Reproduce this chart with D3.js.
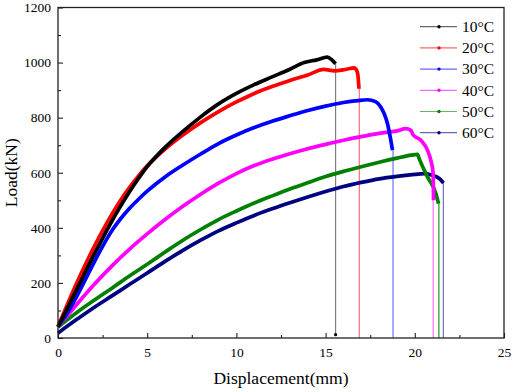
<!DOCTYPE html>
<html>
<head>
<meta charset="utf-8">
<script src="https://cdn.jsdelivr.net/npm/d3@7"></script>
<style>
  html, body { margin: 0; padding: 0; background: #fff; }
  svg text { font-family: 'Liberation Serif', 'Times New Roman', Times, 'DejaVu Serif', serif !important; }
</style>
</head>
<body>
<svg id="chart" width="512" height="392"></svg>
<script>
// ---------------- data ----------------
const seriesNames = ["10°C", "20°C", "30°C", "40°C", "50°C", "60°C"];
const seriesColors = ["#000000", "#ff0000", "#0000ff", "#ff00ff", "#008000", "#000080"];
const dropColors = ["#808080", "#ff7070", "#7070ff", "#ff70ff", "#10a010", "#7070c0"];

const s10 = [[0,40],[0.5,105],[1,170],[1.5,235],[2,300],[2.5,362],[3,422],[3.5,478],[4,530],[4.5,578],[5,622],[6,692],[7,750],[8,803],[9,850],[10,888],[11,920],[12,948],[13,976],[13.8,1000],[14.5,1010],[15.1,1020],[15.35,1010],[15.56,996]];
const s20 = [[0,42],[0.5,118],[1,192],[1.5,262],[2,328],[2.5,390],[3,447],[3.5,499],[4,546],[4.5,588],[5,625],[5.5,657],[6,686],[7,737],[8,782],[9,822],[10,857],[11,888],[12,913],[13,935],[14,955],[14.9,975],[15.5,970],[16.1,975],[16.6,981],[16.75,970],[16.81,955],[16.87,905]];
const s30 = [[0,42],[0.5,88],[1,145],[1.5,208],[2,272],[2.5,333],[3,388],[3.5,432],[4,470],[4.5,503],[5,533],[5.5,560],[6,585],[6.5,607],[7,628],[8,668],[9,706],[10,737],[11,764],[12,787],[13,807],[14,826],[15,842],[16,855],[16.8,862],[17.34,865],[17.8,858],[18.09,839],[18.3,812],[18.47,778],[18.65,720],[18.75,682]];
const s40 = [[0,42],[1,118],[2,192],[3,260],[4,322],[5,378],[6,430],[7,478],[8,522],[9,562],[10,597],[11,626],[12,649],[13,669],[14,687],[15,703],[16,718],[17,731],[18,743],[19,752],[19.49,760],[19.78,754],[19.9,738],[20.34,718],[20.71,682],[20.9,645],[21.03,597],[21.05,500]];
const s50 = [[0,40],[1,90],[2,136],[3,180],[4,225],[5,268],[6,312],[7,355],[8,394],[9,430],[10,461],[11,490],[12,516],[13,541],[14,564],[15,586],[16,605],[17,622],[18,638],[19,653],[19.8,664],[20.15,667],[20.24,652],[20.71,585],[21.18,525],[21.33,488]];
const s60 = [[0,18],[1,65],[2,110],[3,152],[4,194],[5,236],[6,278],[7,318],[8,355],[9,389],[10,418],[11,445],[12,469],[13,491],[14,512],[15,532],[16,550],[17,565],[18,578],[19,587],[20,594],[20.52,597],[20.99,591],[21.37,579],[21.61,563]];
const seriesData = [s10, s20, s30, s40, s50, s60];
// failure drop: [displacement, load at bottom of drop]
const dropX = [15.56, 16.89, 18.78, 21.03, 21.35, 21.6];
const dropEnd = [12, 0, 0, 0, 0, 0];

const xTicks = [0, 5, 10, 15, 20, 25];
const xMinor = [2.5, 7.5, 12.5, 17.5, 22.5];
const yTicks = [0, 200, 400, 600, 800, 1000, 1200];
const yMinor = [100, 300, 500, 700, 900, 1100];
const xTitle = "Displacement(mm)";
const yTitle = "Load(kN)";

// ---------------- drawing ----------------
const FONT = "'Liberation Serif', 'Times New Roman', Times, 'DejaVu Serif', serif";
const svg = d3.select("#chart");
const L = 58, R = 504, T = 7.5, B = 338;
const x = d3.scaleLinear().domain([0, 25]).range([L, R]);
const y = d3.scaleLinear().domain([0, 1200]).range([B, T]);

const line = d3.line().x(d => x(d[0])).y(d => y(d[1])).curve(d3.curveMonotoneX);

// drop lines (thin)
seriesData.forEach((s, i) => {
  const last = s[s.length - 1];
  svg.append("path")
    .attr("d", d3.line().x(d => x(d[0])).y(d => y(d[1]))([last, [dropX[i], last[1]], [dropX[i], dropEnd[i]]]))
    .attr("fill", "none")
    .attr("stroke", dropColors[i])
    .attr("stroke-width", 1.2);
});
svg.append("circle").attr("cx", x(dropX[0])).attr("cy", y(dropEnd[0])).attr("r", 1.6).attr("fill", "#000");

for (let i = seriesData.length - 1; i >= 0; i--) {
  svg.append("path")
    .attr("d", line(seriesData[i]))
    .attr("fill", "none")
    .attr("stroke", seriesColors[i])
    .attr("stroke-width", 3.7)
    .attr("stroke-linejoin", "round");
}

// axes
const xAxis = d3.axisBottom(x).tickValues(xTicks).tickSize(-5).tickPadding(9).tickFormat(d3.format("d"));
const gx = svg.append("g").attr("transform", `translate(0,${B})`).call(xAxis);
const gxm = svg.append("g").attr("transform", `translate(0,${B})`)
  .call(d3.axisBottom(x).tickValues(xMinor).tickSize(-3).tickFormat(""));
const yAxis = d3.axisLeft(y).tickValues(yTicks).tickSize(-5).tickPadding(7).tickFormat(d3.format("d"));
const gy = svg.append("g").attr("transform", `translate(${L},0)`).call(yAxis);
const gym = svg.append("g").attr("transform", `translate(${L},0)`)
  .call(d3.axisLeft(y).tickValues(yMinor).tickSize(-3).tickFormat(""));
[gx, gxm, gy, gym].forEach(g => {
  g.attr("font-family", FONT).attr("font-size", 13.5);
  g.select(".domain").remove();
  g.selectAll("line").attr("stroke", "#222").attr("stroke-width", 1.1);
  g.selectAll("text").attr("fill", "#000").attr("font-family", FONT).attr("font-size", 13.5);
});

svg.append("rect").attr("x", L).attr("y", T).attr("width", R - L).attr("height", B - T)
  .attr("fill", "none").attr("stroke", "#222").attr("stroke-width", 1.3);

svg.append("text").attr("x", (L + R) / 2).attr("y", 384).attr("text-anchor", "middle")
  .attr("font-family", FONT).attr("font-size", 17.5).text(xTitle);
svg.append("text").attr("transform", `translate(17,${(T + B) / 2}) rotate(-90)`)
  .attr("text-anchor", "middle").attr("font-family", FONT).attr("font-size", 17.5).text(yTitle);

const legY0 = 26.7, legDy = 21.2;
seriesNames.forEach((n, i) => {
  const yy = legY0 + i * legDy;
  svg.append("line").attr("x1", 420).attr("x2", 457).attr("y1", yy).attr("y2", yy)
    .attr("stroke", seriesColors[i]).attr("stroke-opacity", 0.6).attr("stroke-width", 1.2);
  svg.append("circle").attr("cx", 439).attr("cy", yy).attr("r", 1.7).attr("fill", seriesColors[i]);
  svg.append("text").attr("x", 462).attr("y", yy + 5.3).attr("font-family", FONT).attr("font-size", 15.5).text(n);
});
</script>
</body>
</html>
